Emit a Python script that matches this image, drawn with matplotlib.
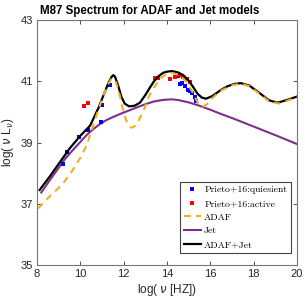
import matplotlib
matplotlib.use("Agg")
import matplotlib.pyplot as plt

# Observational data (Prieto+16)
quies_x = [9.21, 9.37, 9.92, 10.36, 10.95, 11.0, 11.37,
           14.52, 14.6, 14.7, 14.82, 14.97, 15.08, 15.16, 15.3, 15.35]
quies_y = [38.3, 38.7, 39.18, 39.42, 39.66, 40.22, 40.88,
           41.17, 40.9, 40.95, 40.83, 40.72, 40.68, 40.62, 40.48, 40.35]
active_x = [10.17, 10.34, 13.45, 13.58, 14.12, 14.35, 14.58, 14.76, 14.92, 15.08]
active_y = [40.19, 40.3, 41.12, 41.12, 41.08, 41.15, 41.2, 41.14, 41.06, 40.98]

# Model curves
adaf_x = [8.05, 8.6, 9.15, 9.6, 10.0, 10.3, 10.52, 10.75, 10.95, 11.2, 11.45, 11.6,
          11.75, 11.9, 12.05, 12.2, 12.35, 12.55, 12.75, 12.95, 13.15, 13.4, 13.7,
          14.0, 14.3, 14.6, 14.9, 15.2, 15.45, 15.65, 15.85, 16.15, 16.45, 17.0,
          17.4, 17.8, 18.3, 18.7, 19.15, 19.5, 20.0]
adaf_y = [36.85, 37.25, 37.62, 38.05, 38.5, 38.92, 39.4, 39.9, 40.3, 40.8, 41.1, 41.05,
          40.75, 40.28, 39.85, 39.58, 39.48, 39.55, 39.8, 40.1, 40.48, 40.8, 41.1,
          41.25, 41.26, 41.18, 40.98, 40.62, 40.25, 40.17, 40.25, 40.49, 40.68, 40.87,
          40.92, 40.84, 40.57, 40.35, 40.27, 40.35, 40.49]

jet_x = [8.2, 8.6, 9.0, 9.3, 9.65, 10.0, 10.3, 10.6, 10.9, 11.2, 11.5, 11.9, 12.3,
         12.7, 13.0, 13.4, 13.8, 14.2, 14.5, 15.0, 15.5, 16.0, 16.5, 17.0, 18.0, 19.0, 20.0]
jet_y = [37.37, 37.78, 38.17, 38.47, 38.75, 39.02, 39.25, 39.44, 39.6, 39.73, 39.83,
         39.95, 40.06, 40.17, 40.25, 40.34, 40.39, 40.41, 40.39, 40.31, 40.2, 40.07,
         39.93, 39.8, 39.52, 39.24, 38.95]

sum_x = [8.12, 8.6, 9.0, 9.5, 10.0, 10.45, 10.85, 11.1, 11.3, 11.45, 11.52, 11.6,
         11.75, 11.9, 12.05, 12.25, 12.5, 12.75, 13.0, 13.2, 13.4, 13.6, 13.83, 14.05,
         14.25, 14.5, 14.75, 15.0, 15.2, 15.4, 15.6, 15.8, 16.1, 16.45, 16.8, 17.1,
         17.4, 17.8, 18.3, 18.7, 19.1, 19.5, 20.0]
sum_y = [37.45, 37.9, 38.3, 38.8, 39.22, 39.55, 40.15, 40.6, 40.95, 41.15, 41.2, 41.15,
         40.85, 40.48, 40.27, 40.18, 40.2, 40.3, 40.55, 40.78, 41.0, 41.16, 41.28, 41.32,
         41.33, 41.29, 41.2, 41.02, 40.82, 40.6, 40.47, 40.43, 40.52, 40.7, 40.84, 40.91,
         40.94, 40.86, 40.6, 40.38, 40.3, 40.38, 40.5]

x_ticks = [8, 10, 12, 14, 16, 18, 20]
y_ticks = [35, 37, 39, 41, 43]

plt.rcParams['font.family'] = ['Liberation Sans', 'DejaVu Sans']

fig = plt.figure(figsize=(3.05, 3.05), dpi=100)
ax = fig.add_axes([0.1213, 0.1311, 0.8525, 0.8033])

ax.plot(quies_x, quies_y, 's', color='#0000FF', ms=3.2, mew=0,
        label='Prieto+16:quiesient', zorder=3)
ax.plot(active_x, active_y, 's', color='#FF0000', ms=3.2, mew=0,
        label='Prieto+16:active', zorder=3)
ax.plot(adaf_x, adaf_y, '--', color='#EDB120', lw=1.5, dashes=(3.2, 2.6),
        label='ADAF', zorder=5)
ax.plot(jet_x, jet_y, '-', color='#7E2F8E', lw=1.5, label='Jet', zorder=2)
ax.plot(sum_x, sum_y, '-', color='black', lw=1.6, label='ADAF+Jet', zorder=4)

ax.set_xlim(8, 20)
ax.set_ylim(35, 43)
ax.set_xticks(x_ticks)
ax.set_yticks(y_ticks)
ax.tick_params(direction='in', length=3, width=0.6, color='#333333',
               labelsize=8, top=True, right=True, pad=3, labelcolor='#262626')
for s in ax.spines.values():
    s.set_color('#777777')
    s.set_linewidth(0.8)

ax.set_xlabel('log( $\\nu$ [HZ])', fontsize=8.5, labelpad=2, color='#262626')
ax.set_ylabel('log( $\\nu$ L$_\\nu$)', fontsize=8.5, labelpad=3, color='#262626')
ax.set_title('M87 Spectrum for ADAF and Jet models', fontsize=8.3, fontweight='bold',
             pad=4, loc='left', x=0.01)

leg = ax.legend(loc='lower right', bbox_to_anchor=(0.977, 0.049), borderaxespad=0,
                prop={'family': 'cmr10', 'size': 7}, fancybox=False, framealpha=1,
                edgecolor='#444444', handlelength=1.8, handletextpad=0.3,
                labelspacing=0.5, borderpad=0.4, markerscale=0.8)
leg.get_frame().set_linewidth(0.8)

fig.savefig('out.png', dpi=100)
